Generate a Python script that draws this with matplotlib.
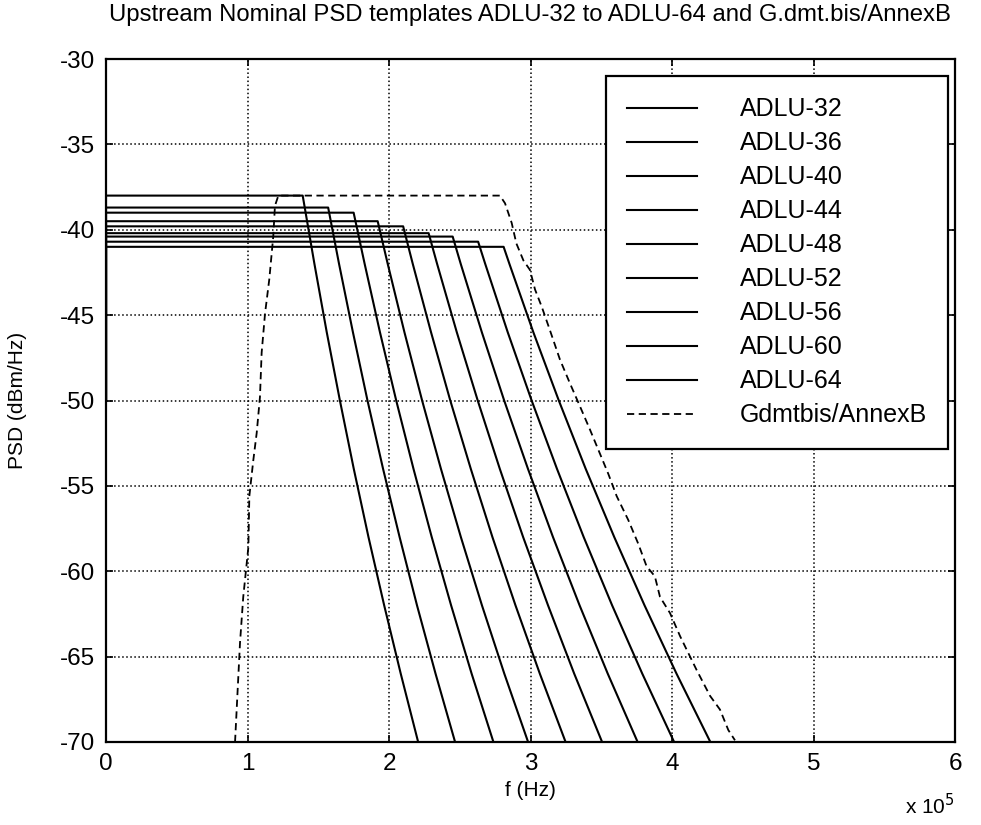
import numpy as np
import matplotlib
matplotlib.use("Agg")
import matplotlib.pyplot as plt

plt.rcParams['font.family'] = ['Liberation Sans', 'DejaVu Sans']
plt.rcParams['axes.unicode_minus'] = False

names = ['ADLU-32', 'ADLU-36', 'ADLU-40', 'ADLU-44', 'ADLU-48',
         'ADLU-52', 'ADLU-56', 'ADLU-60', 'ADLU-64']
levels = [-38.0, -38.7, -39.0, -39.5, -39.8, -40.2, -40.4, -40.7, -41.0]
edges_khz = [139, 157, 175, 192, 210, 228, 245, 263, 281]
low_start = -50
rolloff_db = [-42, -46, -50, -54, -58, -62, -66, -70]
rolloff_khz = [
    [147.3, 156.0, 165.3, 175.1, 185.5, 196.6, 208.3, 220.6],
    [164.7, 174.5, 184.8, 195.8, 207.5, 219.8, 232.9, 246.7],
    [182.8, 193.6, 205.1, 217.3, 230.2, 243.9, 258.4, 273.8],
    [199.1, 210.9, 223.4, 236.7, 250.8, 265.7, 281.5, 298.3],
    [216.8, 229.7, 243.3, 257.8, 273.1, 289.4, 306.6, 324.8],
    [234.0, 247.9, 262.7, 278.3, 294.8, 312.4, 330.9, 350.6],
    [250.7, 265.6, 281.4, 298.2, 315.9, 334.7, 354.6, 375.7],
    [268.0, 283.9, 300.8, 318.7, 337.6, 357.7, 379.0, 401.5],
    [285.1, 302.0, 320.0, 339.0, 359.2, 380.6, 403.2, 427.1],
]

# G.dmt.bis Annex B mask (dashed)
annexb_khz = [91.2, 94.7, 97.0, 100.6, 101.3, 104.1, 106.5, 108.8, 110.0, 112.4,
              115.4, 118.2, 119.4, 121.8, 278.4, 282.0, 286.7, 290.0, 295.0, 299.6,
              303.2, 307.9, 313.8, 320.8, 327.9, 335.0, 342.0, 349.0, 355.0, 360.9,
              369.1, 376.2, 382.0, 387.9, 391.5, 398.6, 405.7, 410.4, 417.5, 426.9,
              433.9, 439.8, 444.5]
annexb_db = [-70.0, -64.2, -61.5, -58.6, -55.6, -53.5, -51.9, -49.8, -47.2, -44.9,
             -42.9, -40.4, -38.6, -38.0, -38.0, -38.45, -39.6, -40.8, -41.8, -42.35,
             -43.5, -44.5, -45.9, -47.6, -49.0, -50.35, -51.7, -53.1, -54.3, -55.6,
             -57.0, -58.4, -59.7, -60.3, -61.5, -62.45, -63.8, -64.6, -65.8, -67.3,
             -68.1, -69.3, -69.9]

W, H = 981, 825
fig = plt.figure(figsize=(W / 100, H / 100), dpi=100)
ax = fig.add_axes([106 / W, 1 - 742 / H, 849 / W, 683 / H])

for name, lev, fe, fr in zip(names, levels, edges_khz, rolloff_khz):
    f = np.array([0, 0, fe] + fr) * 1e3
    p = np.array([low_start, lev, lev] + rolloff_db)
    ax.plot(f, p, color='k', lw=1.5, label=name)

ax.plot(np.array(annexb_khz) * 1e3, annexb_db, color='k', lw=1.3,
        ls=(0, (4, 2.5)), label='Gdmtbis/AnnexB')

ax.set_xlim(0, 6e5)
ax.set_ylim(-70, -30)
ax.set_xticks(np.arange(0, 6.01e5, 1e5))
ax.set_xticklabels([str(i) for i in range(7)])
ax.set_yticks(np.arange(-70, -29, 5))
ax.tick_params(direction='in', labelsize=17.5, top=True, right=True, length=5, width=1.2, pad=8)
ax.grid(True, color='k', ls=':', lw=1.1)
for s in ax.spines.values():
    s.set_linewidth(1.6)

fig.text(530 / W, 1 - 15 / H, 'Upstream Nominal PSD templates ADLU-32 to ADLU-64 and G.dmt.bis/AnnexB',
         fontsize=17.2, ha='center', va='center')
fig.text(530 / W, 1 - 791 / H, 'f (Hz)', fontsize=15, ha='center', va='center')
fig.text(18 / W, 1 - 400 / H, 'PSD (dBm/Hz)', fontsize=15, ha='center', va='center', rotation=90)
fig.text(905 / W, 1 - 806 / H, r'x 10$^5$', fontsize=15, ha='left', va='center')

leg = ax.legend(loc='upper right', bbox_to_anchor=(0.992, 0.975), fontsize=18,
                handlelength=2.8, handletextpad=1.7, labelspacing=0.40,
                borderpad=0.85, fancybox=False, framealpha=1, edgecolor='k',
                borderaxespad=0)
leg.get_frame().set_linewidth(1.6)

fig.savefig('out.png', dpi=100)
